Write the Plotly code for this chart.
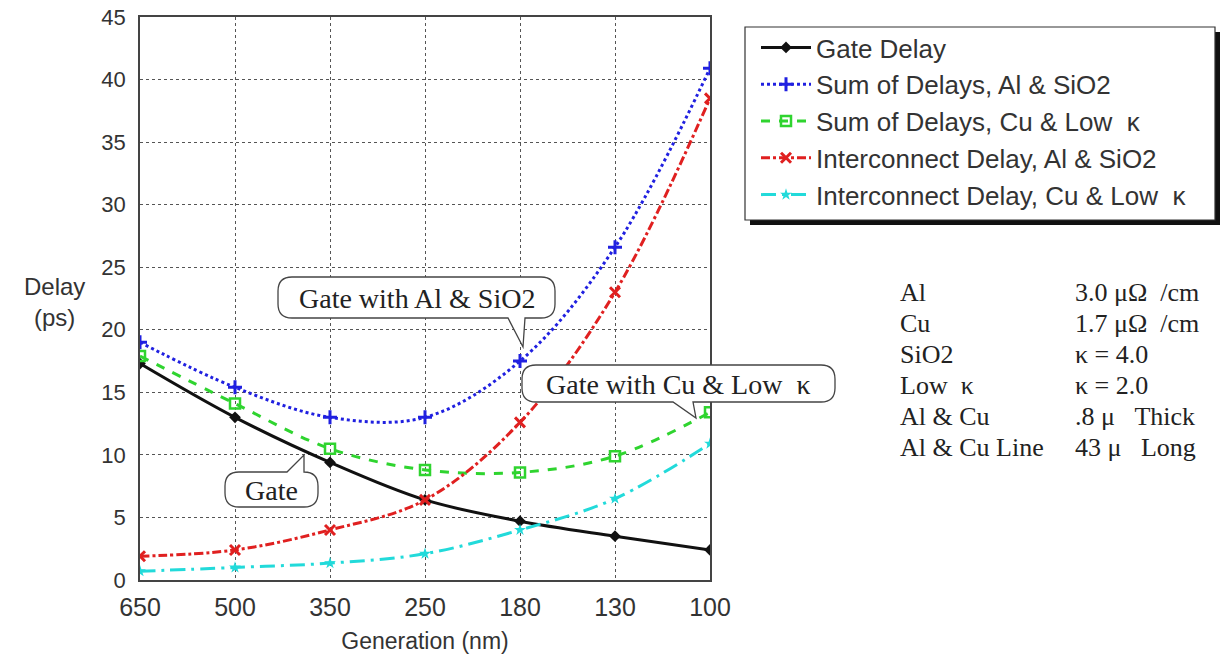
import plotly.graph_objects as go

generations = ["650", "500", "350", "250", "180", "130", "100"]
gate_delay = [17.3, 13.0, 9.4, 6.4, 4.7, 3.5, 2.4]
sum_al_sio2 = [19.0, 15.4, 13.0, 13.0, 17.5, 26.6, 40.9]
sum_cu_lowk = [17.9, 14.1, 10.5, 8.8, 8.6, 9.9, 13.4]
int_al_sio2 = [1.9, 2.4, 4.0, 6.4, 12.6, 23.0, 38.5]
int_cu_lowk = [0.7, 1.0, 1.35, 2.1, 4.0, 6.5, 10.9]
delay_ticks = [0, 5, 10, 15, 20, 25, 30, 35, 40, 45]

table_left = ["Al", "Cu", "SiO2", "Low  κ", "Al & Cu", "Al & Cu Line"]
table_right = ["3.0 μΩ  /cm", "1.7 μΩ  /cm", "κ = 4.0", "κ = 2.0", ".8 μ   Thick", "43 μ   Long"]

SANS = "Liberation Sans, Arial, sans-serif"
SERIF = "Liberation Serif, Times New Roman, serif"

series = [
    ("Gate Delay", gate_delay, "#111111", "solid", 3, dict(symbol="diamond", size=9, color="#111111")),
    ("Sum of Delays, Al & SiO2", sum_al_sio2, "#2020e0", "dot", 3, dict(symbol="cross-thin", size=10, line=dict(width=3, color="#2020e0"))),
    ("Sum of Delays, Cu & Low  κ", sum_cu_lowk, "#2fd42f", "dash", 3, dict(symbol="square-open", size=10, line=dict(width=2.5, color="#2fd42f"))),
    ("Interconnect Delay, Al & SiO2", int_al_sio2, "#e02020", "dashdot", 3, dict(symbol="x-thin", size=10, line=dict(width=3, color="#e02020"))),
    ("Interconnect Delay, Cu & Low  κ", int_cu_lowk, "#22dada", "longdashdot", 3, dict(symbol="star", size=9, color="#22dada")),
]

fig = go.Figure()
for i, (name, ys, col, dash, w, mk) in enumerate(series):
    fig.add_trace(go.Scatter(
        x=generations, y=ys, name=name, mode="lines+markers",
        line=dict(color=col, dash=dash, width=w, shape="spline", smoothing=1.0),
        marker=mk, legendgroup=f"g{i}",
    ))

# screen-pixel -> paper helpers (plot area spans x 140..710, y 17..580 on screen)
def px_x(p):
    return (p - 140) / 570.0

def px_y(p):
    return (580 - p) / 563.0

def pt(x, y):
    return f"{px_x(x):.5f},{px_y(y):.5f}"

def callout_path(x0, y0, x1, y1, bx0, bx1, tip, side, r=14):
    tx, ty = tip
    p = f"M {pt(x0 + r, y0)} "
    if side == "top":
        p += f"L {pt(bx0, y0)} L {pt(tx, ty)} L {pt(bx1, y0)} "
    p += f"L {pt(x1 - r, y0)} Q {pt(x1, y0)} {pt(x1, y0 + r)} "
    p += f"L {pt(x1, y1 - r)} Q {pt(x1, y1)} {pt(x1 - r, y1)} "
    if side == "bottom":
        p += f"L {pt(bx1, y1)} L {pt(tx, ty)} L {pt(bx0, y1)} "
    p += f"L {pt(x0 + r, y1)} Q {pt(x0, y1)} {pt(x0, y1 - r)} "
    p += f"L {pt(x0, y0 + r)} Q {pt(x0, y0)} {pt(x0 + r, y0)} Z"
    return p

shapes = [
    # legend shadow and box
    dict(type="rect", xref="paper", yref="paper", x0=px_x(750), x1=px_x(1220), y0=px_y(225), y1=px_y(32),
         fillcolor="#111111", line=dict(width=0), layer="below"),
    dict(type="rect", xref="paper", yref="paper", x0=px_x(745), x1=px_x(1215), y0=px_y(220), y1=px_y(27),
         fillcolor="white", line=dict(width=1.2, color="#333333"), layer="below"),
]

callouts = [
    # text, center, box, pointer base, tip, side
    ("Gate with Al &amp; SiO2", (417, 298), (278, 277, 555, 318), (508, 525), (523, 347), "bottom"),
    ("Gate with Cu &amp; Low  κ", (678, 384), (522, 365, 835, 402), (673, 693), (696, 418), "bottom"),
    ("Gate", (271, 490), (225, 472, 318, 507), (287, 304), (304, 455), "top"),
]
annotations = []
for text, (cx, cy), (x0, y0, x1, y1), (bx0, bx1), tip, side in callouts:
    shapes.append(dict(type="path", xref="paper", yref="paper",
                       path=callout_path(x0, y0, x1, y1, bx0, bx1, tip, side),
                       fillcolor="white", line=dict(width=1.3, color="#444444"), layer="above"))
    annotations.append(dict(text=text, xref="paper", yref="paper", x=px_x(cx), y=px_y(cy),
                            xanchor="center", yanchor="middle", showarrow=False,
                            font=dict(family=SERIF, size=28, color="#222222")))

annotations.append(dict(text="Delay<br>(ps)", xref="paper", yref="paper", x=px_x(54), y=px_y(302),
                        xanchor="center", yanchor="middle", showarrow=False,
                        font=dict(family=SANS, size=24, color="#333333"), align="center"))
for i, (l, r) in enumerate(zip(table_left, table_right)):
    yy = px_y(292 + i * 31)
    annotations.append(dict(text=l, xref="paper", yref="paper", x=px_x(898), y=yy,
                            xanchor="left", yanchor="middle",
                            showarrow=False, font=dict(family=SERIF, size=26, color="#222222")))
    annotations.append(dict(text=r, xref="paper", yref="paper", x=px_x(1073), y=yy,
                            xanchor="left", yanchor="middle",
                            showarrow=False, font=dict(family=SERIF, size=26, color="#222222")))

fig.update_layout(
    width=1228, height=661,
    margin=dict(l=132, r=526, t=9, b=89),
    paper_bgcolor="white", plot_bgcolor="white",
    showlegend=True,
    legend=dict(x=px_x(756), y=px_y(24), xanchor="left", yanchor="top",
                bgcolor="rgba(0,0,0,0)", borderwidth=0,
                font=dict(family=SANS, size=26, color="#333333"),
                tracegroupgap=0, itemwidth=50),
    shapes=shapes, annotations=annotations,
)
fig.update_xaxes(type="category", automargin=False, showgrid=True, gridcolor="#555555", griddash="dot", gridwidth=1,
                 showline=True, linecolor="#444444", linewidth=1.5, mirror=True,
                 tickfont=dict(family=SANS, size=25, color="#333333"), ticklabelstandoff=4,
                 title=dict(text="Generation (nm)", font=dict(family=SANS, size=23, color="#333333"), standoff=13),
                 range=[0, 6])
fig.update_yaxes(range=[0, 45], automargin=False, tickmode="array", tickvals=delay_ticks, ticklabeloverflow="allow",
                 showgrid=True, gridcolor="#555555", griddash="dot", gridwidth=1,
                 showline=True, linecolor="#444444", linewidth=1.5, mirror=True, zeroline=False,
                 tickfont=dict(family=SANS, size=22, color="#333333"), ticklabelstandoff=8)

fig.write_html("out.html")
